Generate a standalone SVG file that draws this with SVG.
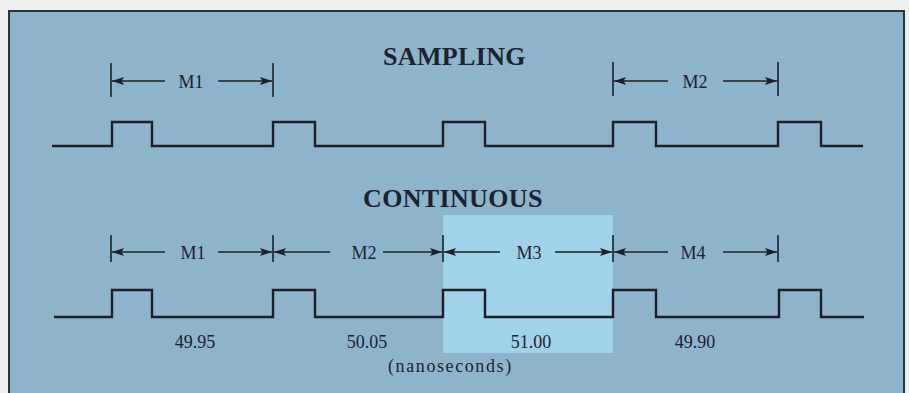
<svg xmlns="http://www.w3.org/2000/svg" width="909" height="393" viewBox="0 0 909 393">
<style>
.wave{fill:none;stroke:#1c2026;stroke-width:2.4;stroke-linejoin:miter}
.tick{stroke:#1c2026;stroke-width:1.6}
.dim{stroke:#1c2026;stroke-width:1.4;marker-end:url(#ah)}
.title{font-family:"Liberation Serif","Times New Roman",serif;font-size:26px;font-weight:bold;fill:#1c2230;letter-spacing:0.35px}
.lab{font-family:"Liberation Serif","Times New Roman",serif;font-size:18px;fill:#1c2230;text-anchor:middle}
.num{font-family:"Liberation Serif","Times New Roman",serif;font-size:18px;fill:#1c2230;text-anchor:middle}
</style>
<defs>
<marker id="ah" markerUnits="userSpaceOnUse" markerWidth="14" markerHeight="9" refX="12" refY="4" orient="auto">
<path d="M0,0 L12,4 L0,8 L2.5,4 Z" fill="#1c2026"/>
</marker>
</defs>
<rect x="0" y="0" width="909" height="393" fill="#eef0ee"/>
<rect id="panel" x="9" y="11" width="895" height="400" fill="#8eb4cc" stroke="#2a3440" stroke-width="2"/>
<rect id="highlight" x="443" y="215" width="170" height="138" fill="#a0d2ea"/>

<g id="sampling">
<text class="title" x="383" y="65">SAMPLING</text>
<path class="wave" d="M52,146 H112 V122 H152 V146 H273 V122 H315 V146 H443 V122 H485 V146 H613 V122 H656 V146 H778 V122 H821 V146 H863"/>
</g>
<g id="continuous">
<text class="title" x="363" y="207">CONTINUOUS</text>
<path class="wave" d="M54,317 H112 V290 H152 V317 H273 V290 H315 V317 H443 V290 H485 V317 H613 V290 H656 V317 H779 V290 H821 V317 H864"/>
</g>

<g id="connectors">
<line class="tick" x1="111" y1="63" x2="111" y2="97"/>
<line class="tick" x1="273" y1="63" x2="273" y2="97"/>
<line class="tick" x1="613" y1="62" x2="613" y2="96"/>
<line class="tick" x1="778" y1="62" x2="778" y2="96"/>
<line class="dim" x1="165" y1="81" x2="112" y2="81"/>
<line class="dim" x1="218" y1="81" x2="272" y2="81"/>
<line class="dim" x1="668" y1="81" x2="614" y2="81"/>
<line class="dim" x1="723" y1="81" x2="777" y2="81"/>

<line class="tick" x1="111" y1="235" x2="111" y2="262"/>
<line class="tick" x1="273" y1="235" x2="273" y2="262"/>
<line class="tick" x1="443" y1="235" x2="443" y2="262"/>
<line class="tick" x1="613" y1="235" x2="613" y2="262"/>
<line class="tick" x1="778" y1="235" x2="778" y2="262"/>
<line class="dim" x1="165" y1="252" x2="112" y2="252"/>
<line class="dim" x1="218" y1="252" x2="272" y2="252"/>
<line class="dim" x1="330" y1="252" x2="274" y2="252"/>
<line class="dim" x1="383" y1="252" x2="442" y2="252"/>
<line class="dim" x1="500" y1="252" x2="444" y2="252"/>
<line class="dim" x1="555" y1="252" x2="612" y2="252"/>
<line class="dim" x1="668" y1="252" x2="614" y2="252"/>
<line class="dim" x1="723" y1="252" x2="777" y2="252"/>
</g>

<g id="labels">
<text class="lab" x="191" y="88">M1</text>
<text class="lab" x="695" y="88">M2</text>
<text class="lab" x="193" y="259">M1</text>
<text class="lab" x="364" y="259">M2</text>
<text class="lab" x="529" y="259">M3</text>
<text class="lab" x="693" y="259">M4</text>
<text class="num" x="195" y="348">49.95</text>
<text class="num" x="367" y="348">50.05</text>
<text class="num" x="531" y="348">51.00</text>
<text class="num" x="695" y="348">49.90</text>
<text class="num" x="388" y="372" style="text-anchor:start;letter-spacing:1.6px">(nanoseconds)</text>
</g>
</svg>
